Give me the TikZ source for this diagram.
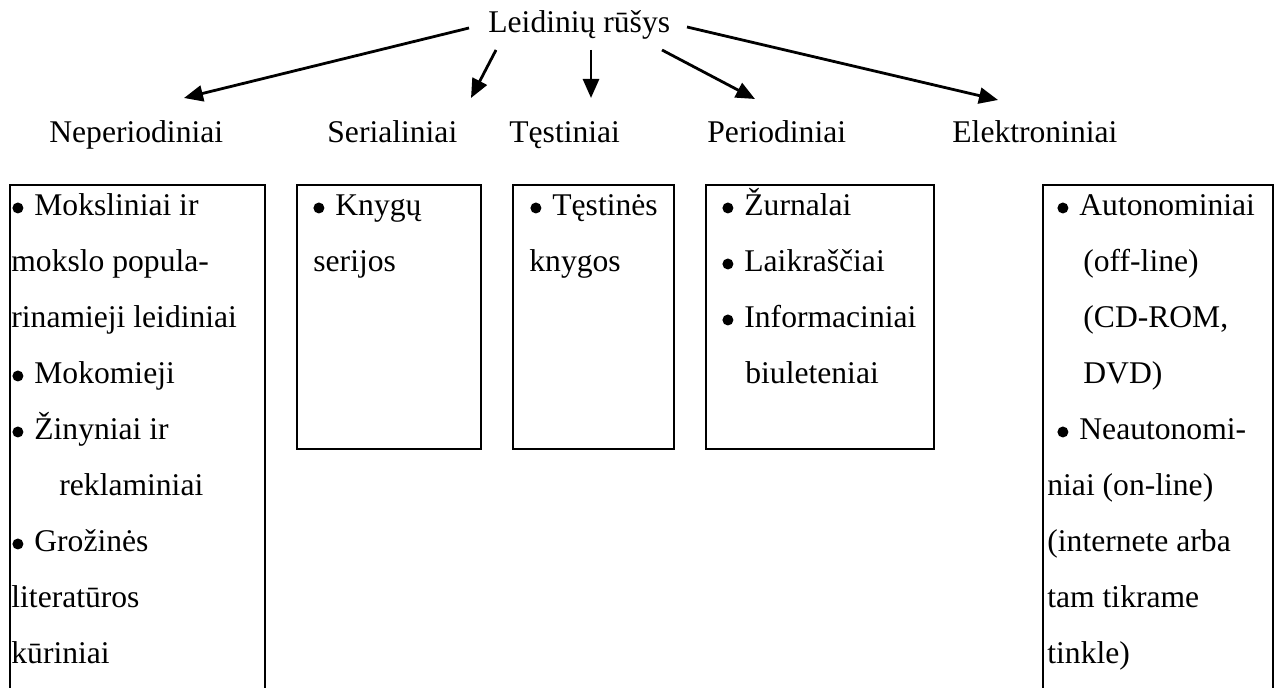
\documentclass[tikz,border=0pt]{standalone}
\usepackage{fontspec}
\setmainfont{Liberation Serif}
\usetikzlibrary{arrows.meta}
\newcommand{\bul}{\tikz[baseline={(0pt,-4pt)}]\fill (2.75pt,0pt) circle[radius=2.75pt];\hspace{5.5pt}}
\begin{document}
\begin{tikzpicture}[x=0.5pt,y=-0.5pt,
  txt/.style={font=\fontsize{15.8pt}{28pt}\selectfont, inner sep=0pt, anchor=base west},
  arr/.style={line width=1.4pt, -{Triangle[length=9.5pt,width=8pt]}},
  boxline/.style={line width=1.1pt}]
\fill[white] (0,0) rectangle (1279,688);
\clip (0,0) rectangle (1279,688);

% title and category labels
\node[txt] (title) at (488,33) {Leidinių rūšys};
\node[txt] (nep) at (49,143) {Neperiodiniai};
\node[txt] (ser) at (327,143) {Serialiniai};
\node[txt] (tes) at (509,143) {Tęstiniai};
\node[txt] (per) at (707,143) {Periodiniai};
\node[txt] (ele) at (952,143) {Elektroniniai};

% arrow end points
\coordinate (s1) at (469,28);  \coordinate (e1) at (184,98);
\coordinate (s2) at (496,50);  \coordinate (e2) at (471,98);
\coordinate (s3) at (591,50);  \coordinate (e3) at (591,98);
\coordinate (s4) at (662,50);  \coordinate (e4) at (755,99);
\coordinate (s5) at (687,27);  \coordinate (e5) at (998,100);
\draw[arr] (s1) -- (e1);
\draw[arr] (s2) -- (e2);
\draw[arr] (s3) -- (e3);
\draw[arr] (s4) -- (e4);
\draw[arr] (s5) -- (e5);

% boxes
\draw[boxline] (10,800) -- (10,185) -- (265,185) -- (265,800);
\draw[boxline] (297,185) rectangle (481,449);
\draw[boxline] (513,185) rectangle (674,449);
\draw[boxline] (706,185) rectangle (934,449);
\draw[boxline] (1043,800) -- (1043,185) -- (1273,185) -- (1273,800);

% box texts
\foreach \x/\t [count=\i from 0] in {12/{\bul Moksliniai ir}, 11/{mokslo popula-},
  11/{rinamieji leidiniai}, 12/{\bul Mokomieji}, 12/{\bul Žinyniai ir},
  59/{reklaminiai}, 12/{\bul Grožinės}, 11/{literatūros}, 11/{kūriniai}}
  {\node[txt] (a\i) at (\x,{216+56*\i}) {\t};}
\foreach \x/\t [count=\i from 0] in {313/{\bul Knygų}, 313/{serijos}}
  {\node[txt] (b\i) at (\x,{216+56*\i}) {\t};}
\foreach \x/\t [count=\i from 0] in {530/{\bul Tęstinės}, 529/{knygos}}
  {\node[txt] (c\i) at (\x,{216+56*\i}) {\t};}
\foreach \x/\t [count=\i from 0] in {722/{\bul Žurnalai}, 722/{\bul Laikraščiai},
  722/{\bul Informaciniai}, 745/{biuleteniai}}
  {\node[txt] (d\i) at (\x,{216+56*\i}) {\t};}
\foreach \x/\t [count=\i from 0] in {1057/{\bul Autonominiai}, 1083/{(off-line)},
  1083/{(CD-ROM,}, 1083/{DVD)}, 1057/{\bul Neautonomi-}, 1047/{niai (on-line)},
  1047/{(internete arba}, 1047/{tam tikrame}, 1047/{tinkle)}}
  {\node[txt] (f\i) at (\x,{216+56*\i}) {\t};}
\end{tikzpicture}
\end{document}
